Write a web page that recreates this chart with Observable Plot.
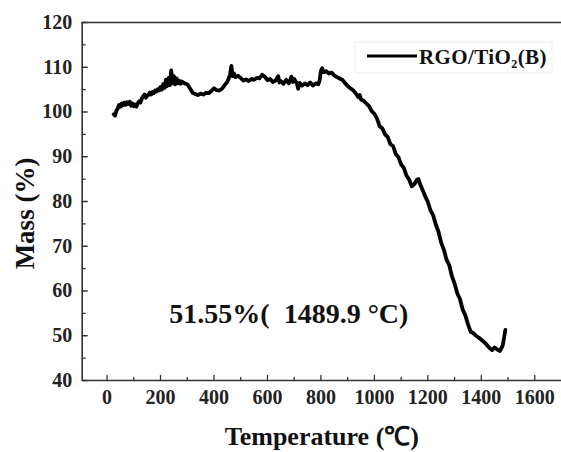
<!DOCTYPE html>
<html>
<head>
<meta charset="utf-8">
<script src="https://cdn.jsdelivr.net/npm/d3@7"></script>
<script src="https://cdn.jsdelivr.net/npm/@observablehq/plot@0.6"></script>
<style>
  html, body { margin: 0; padding: 0; background: #fff; }
  #chart { width: 561px; height: 452px; }
</style>
</head>
<body>
<div id="chart"></div>
<script>
// ---- data ----
const temps = [25,30,35,40,45,50,55,60,65,70,75,80,85,90,95,100,105,110,115,120,125,130,135,140,145,150,155,160,165,170,175,180,185,190,195,200,205,210,215,220,225,230,235,240,245,250,255,260,265,270,275,280,290,300,310,320,330,340,350,360,370,380,390,400,410,420,430,440,450,455,460,465,470,475,480,490,500,510,520,530,540,550,560,570,580,590,600,610,620,630,640,645,650,660,670,680,690,695,700,710,715,720,730,740,750,760,770,780,790,795,800,805,810,820,830,840,850,860,870,880,890,900,910,920,930,940,945,950,960,970,980,990,1000,1010,1020,1030,1040,1050,1060,1070,1080,1090,1100,1110,1120,1130,1140,1150,1160,1165,1170,1180,1190,1200,1210,1220,1230,1240,1250,1260,1270,1280,1290,1300,1310,1320,1330,1340,1350,1360,1370,1380,1390,1400,1410,1420,1430,1440,1450,1460,1470,1480,1485,1490];
const mass = [99.5,99.2,100.3,100.8,101.6,101.2,101.9,101.5,102.1,101.6,102.2,101.8,102.3,101.4,101.9,101.3,101.7,101.2,102.0,102.4,102.1,103.0,103.5,103.9,103.2,103.6,103.9,104.3,103.9,104.5,104.2,104.8,104.6,105.1,104.8,105.6,105.0,106.2,105.4,107.2,105.8,107.6,106.0,109.3,106.4,108.0,106.2,107.5,106.4,107.0,106.3,106.8,106.4,106.2,105.3,104.3,104.0,103.8,104.1,103.9,104.3,104.2,104.7,105.3,104.9,104.8,105.2,106.0,106.8,107.5,108.3,110.3,108.0,108.6,107.8,108.1,107.6,107.0,107.3,106.9,107.4,107.2,107.6,107.5,108.3,107.9,107.1,107.4,106.7,107.0,108.0,106.6,106.9,106.3,107.2,106.4,107.9,106.7,107.4,106.4,105.2,106.5,105.9,106.4,106.0,106.6,105.9,106.4,106.2,107.0,109.2,109.8,108.9,109.1,108.6,108.8,108.2,107.8,107.5,107.2,106.5,105.8,105.3,104.9,104.2,103.3,103.8,102.8,102.5,101.9,101.3,100.2,99.6,98.5,96.8,96.3,95.0,94.4,92.8,92.4,90.6,89.9,88.3,87.5,85.8,84.9,83.4,83.9,84.9,85.0,84.0,82.6,81.2,79.9,78.0,76.9,74.8,73.2,70.8,69.2,67.0,65.8,63.3,61.7,59.5,58.2,55.9,54.6,52.6,50.9,50.6,50.0,49.6,49.1,48.6,48.0,47.3,46.8,47.4,46.9,46.6,47.8,49.5,51.3];

const xMajor = [0,200,400,600,800,1000,1200,1400,1600];
const xMinor = [100,300,500,700,900,1100,1300,1500];
const yMajor = [40,50,60,70,80,90,100,110,120];
const yMinor = [45,55,65,75,85,95,105,115];

const xDomain = [-93, 1700];
const yDomain = [40, 120];

const seriesName = "RGO/TiO";
const annotationText = "51.55%(\u00a0\u00a01489.9 °C)";
const annotationAt = {x: 680, y: 54.8};

const data = temps.map((t, i) => ({t, m: mass[i]}));

const serif = "'Liberation Serif', 'Times New Roman', serif";
const axisColor = "#333";
const tickShape = {draw(ctx, l) { ctx.moveTo(0, 0); ctx.lineTo(0, -l); }};

const chart = Plot.plot({
  width: 561,
  height: 452,
  marginLeft: 81.7,
  marginRight: 0,
  marginTop: 22,
  marginBottom: 72,
  x: {domain: xDomain, axis: null},
  y: {domain: yDomain, axis: null},
  style: {fontFamily: serif, background: "white", color: "#111"},
  marks: [
    Plot.ruleY([yDomain[0]], {stroke: axisColor, strokeWidth: 1.6}),
    Plot.ruleY([yDomain[1]], {stroke: axisColor, strokeWidth: 1.6}),
    Plot.ruleX([xDomain[0]], {stroke: axisColor, strokeWidth: 1.6}),
    Plot.vector(xMajor, {x: d => d, y: yDomain[0], length: 5, anchor: "start", shape: tickShape, stroke: axisColor, strokeWidth: 1.3}),
    Plot.vector(xMinor, {x: d => d, y: yDomain[0], length: 3, anchor: "start", shape: tickShape, stroke: axisColor, strokeWidth: 1.3}),
    Plot.vector(yMajor, {x: xDomain[0], y: d => d, rotate: 90, length: 5, anchor: "start", shape: tickShape, stroke: axisColor, strokeWidth: 1.3}),
    Plot.vector(yMinor, {x: xDomain[0], y: d => d, rotate: 90, length: 3, anchor: "start", shape: tickShape, stroke: axisColor, strokeWidth: 1.3}),
    Plot.text(xMajor, {x: d => d, y: yDomain[0], dy: 17, text: d => `${d}`, fontSize: 20, fontWeight: "bold", fill: "#222"}),
    Plot.text(yMajor, {x: xDomain[0], y: d => d, dx: -10, textAnchor: "end", text: d => `${d}`, fontSize: 20, fontWeight: "bold", fill: "#222"}),
    Plot.line(data, {x: "t", y: "m", stroke: "black", strokeWidth: 3.8, strokeLinejoin: "round", strokeLinecap: "round"}),
    Plot.text([annotationText], {x: annotationAt.x, y: annotationAt.y, text: d => d, fontSize: 28, fontWeight: "bold", fill: "#111"}),
    Plot.text(["Temperature (℃)"], {frameAnchor: "bottom", dy: 56, lineAnchor: "middle", textAnchor: "middle", text: d => d, fontSize: 26, fontWeight: "bold", fill: "#111"}),
    Plot.text(["Mass (%)"], {frameAnchor: "left", dx: -57, dy: 12, rotate: -90, lineAnchor: "middle", textAnchor: "middle", text: d => d, fontSize: 27, fontWeight: "bold", fill: "#111"})
  ]
});

// legend inside the plot area (top right)
const svg = d3.select(chart);
const lg = svg.append("g").attr("text-anchor", "start");
lg.append("rect").attr("x", 355).attr("y", 42).attr("width", 197).attr("height", 31)
  .attr("fill", "white").attr("stroke", "#eeeeee").attr("stroke-width", 1);
lg.append("line").attr("x1", 367).attr("x2", 417).attr("y1", 56).attr("y2", 56)
  .attr("stroke", "black").attr("stroke-width", 3.2);
const lt = lg.append("text").attr("x", 419).attr("y", 63.5).attr("text-anchor", "start")
  .attr("font-family", serif).attr("font-size", 21).attr("font-weight", "bold")
  .attr("fill", "#111").attr("letter-spacing", 0.4);
lt.append("tspan").text(seriesName);
lt.append("tspan").attr("font-size", 12).attr("dy", 4).text("2");
lt.append("tspan").attr("dy", -4).text("(B)");

document.getElementById("chart").appendChild(chart);
</script>
</body>
</html>
